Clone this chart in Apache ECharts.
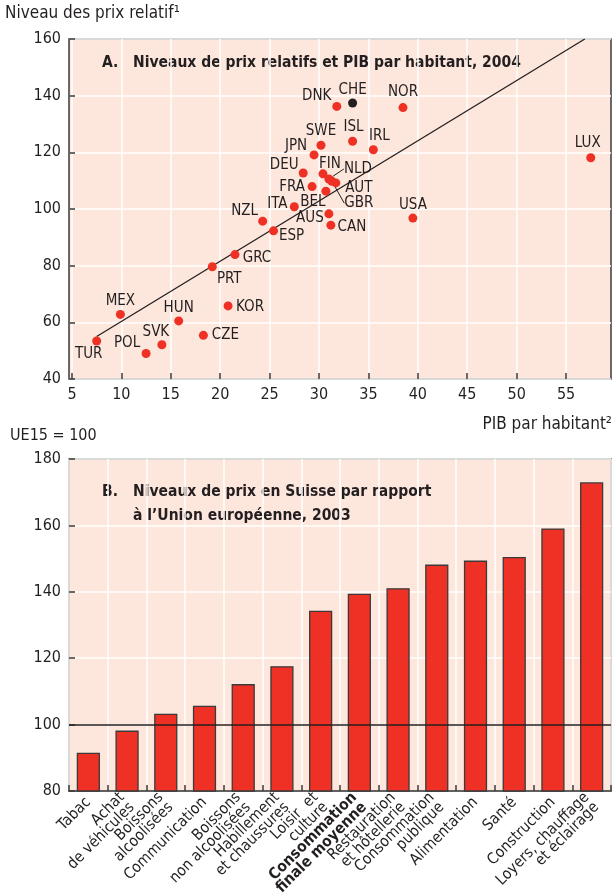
<!DOCTYPE html>
<html><head><meta charset="utf-8">
<script src="https://cdn.jsdelivr.net/npm/echarts@6/dist/echarts.min.js"></script>
<style>html,body{margin:0;padding:0;background:#fff}#c{width:614px;height:896px}</style>
</head><body><div id="c"></div>
<script>
const FONT = "'Liberation Sans Narrow','Arial Narrow','DejaVu Sans Condensed',sans-serif";

// ---- Panel A data ----
const countries     = ['TUR','MEX','POL','SVK','HUN','CZE','KOR','PRT','GRC','ESP','NZL','ITA','BEL','AUS','CAN','USA','FRA','DEU','FIN','NLD','GBR','AUT','JPN','SWE','ISL','IRL','DNK','CHE','NOR','LUX'];
const gdpPerCapita  = [7.5, 9.9, 12.5, 14.1, 15.8, 18.3, 20.8, 19.2, 21.5, 25.4, 24.3, 27.5, 30.7, 31.0, 31.2, 39.5, 29.3, 28.4, 30.4, 31.0, 31.3, 31.7, 29.5, 30.2, 33.4, 35.5, 31.8, 33.4, 38.5, 57.5];
const relPriceLevel = [53.4, 62.8, 49.0, 52.1, 60.5, 55.4, 65.8, 79.6, 83.9, 92.3, 95.7, 100.8, 106.3, 98.3, 94.3, 96.8, 107.9, 112.7, 112.4, 110.6, 109.8, 109.2, 119.1, 122.5, 123.9, 120.9, 136.2, 137.4, 135.8, 118.1];
const trendGdp   = [7.5, 56.9];
const trendPrice = [55.0, 160];
const xTicksA = [5, 10, 15, 20, 25, 30, 35, 40, 45, 50, 55];
const highlighted = 'CHE';

// ---- Panel B data ----
const categoriesB = ['Tabac','Achat\nde véhicules','Boissons\nalcoolisées','Communication','Boissons\nnon alcoolisées','Habillement\net chaussures','Loisir  et\nculture','Consommation\nfinale moyenne','Restauration\net hôtellerie','Consommation\npublique','Alimentation','Santé','Construction','Loyers, chauffage\net éclairage'];
const priceLevelsB = [91.5, 98.2, 103.3, 105.7, 112.2, 117.6, 134.3, 139.4, 141.1, 148.2, 149.4, 150.5, 159.1, 173.0];
const boldCategory = 'Consommation\nfinale moyenne';
const referenceLevel = 100;

// ---- label placement (style, not data) ----
const labelOffsets = {
  TUR:[-8,13], MEX:[0,-13], POL:[-19,-10], SVK:[-6,-13], HUN:[0,-13], CZE:[22,0], KOR:[22,1],
  PRT:[17,12], GRC:[22,3], ESP:[18,5], NZL:[-18,-10], ITA:[-17,-3], BEL:[-13,11], AUS:[-19,4],
  CAN:[21,2], USA:[0,-13], FRA:[-20,0], DEU:[-19,-8], FIN:[7,-10], NLD:[29,-10], GBR:[27,22],
  AUT:[23,5], JPN:[-18,-9], SWE:[0,-14], ISL:[1,-14], IRL:[6,-14], DNK:[-20,-10], CHE:[0,-13],
  NOR:[0,-15], LUX:[-3,-15]
};
const withLeader = ['NLD','GBR'];

const RED = '#ee3124', DARK = '#231f20', BG = '#fde6dc', FRAME = '#3a3a3a';

const chart = echarts.init(document.getElementById('c'), null, {renderer:'canvas'});

const scatterData = countries.map((c, i) => {
  const item = { name: c, value: [gdpPerCapita[i], relPriceLevel[i]] };
  if (c === highlighted) item.itemStyle = { color: DARK };
  if (withLeader.includes(c)) item.labelLine = { show: true, lineStyle: { color: DARK, width: 1 } };
  return item;
});

const gridBase = { show: true, backgroundColor: BG, borderColor: FRAME, borderWidth: 1.5, outerBoundsMode: 'none', containLabel: false };
const tickLabel = { color: DARK, fontSize: 16, fontFamily: FONT };
const TITLE_FONT = 'bold 15.5px ' + FONT;

chart.setOption({
  animation: false,
  backgroundColor: '#fff',
  grid: [
    Object.assign({ left: 69, right: 3, top: 39, height: 340 }, gridBase),
    Object.assign({ left: 69, right: 3, top: 459, height: 332 }, gridBase)
  ],
  xAxis: [
    { type: 'value', gridIndex: 0, min: 4.7, max: 59.55,
      axisLine: { show: false },
      axisTick: { show: true, inside: true, length: 6, lineStyle: { color: FRAME, width: 1.5 }, customValues: xTicksA },
      axisLabel: Object.assign({ margin: 8, customValues: xTicksA }, tickLabel),
      splitLine: { show: true, lineStyle: { color: '#fff', width: 1.5 } } },
    { type: 'category', gridIndex: 1, data: categoriesB,
      axisLine: { show: true, lineStyle: { color: FRAME, width: 1.5 } },
      axisTick: { show: true, inside: true, length: 6, alignWithLabel: false, lineStyle: { color: FRAME, width: 1.5 } },
      splitLine: { show: true, lineStyle: { color: '#fff', width: 1.5 } },
      axisLabel: { interval: 0, rotate: 45, margin: 9, color: DARK, fontSize: 15.5, lineHeight: 14, fontFamily: FONT,
        formatter: v => v === boldCategory ? v.split('\n').map(s => '{b|' + s + '}').join('\n') : v,
        rich: { b: { fontWeight: 'bold', fontSize: 15.5, lineHeight: 14, fontFamily: FONT, color: DARK } } } }
  ],
  yAxis: [
    { type: 'value', gridIndex: 0, min: 40, max: 160, interval: 20,
      axisLine: { show: false },
      axisTick: { show: true, inside: true, length: 6, lineStyle: { color: FRAME, width: 1.5 } },
      axisLabel: Object.assign({ margin: 8 }, tickLabel),
      splitLine: { show: true, lineStyle: { color: '#fff', width: 1.5 } } },
    { type: 'value', gridIndex: 1, min: 80, max: 180, interval: 20,
      axisLine: { show: false },
      axisTick: { show: true, inside: true, length: 6, lineStyle: { color: FRAME, width: 1.5 } },
      axisLabel: Object.assign({ margin: 8 }, tickLabel),
      splitLine: { show: true, lineStyle: { color: '#fff', width: 1.5 } } }
  ],
  series: [
    { type: 'line', xAxisIndex: 0, yAxisIndex: 0, z: 2, silent: true, symbol: 'none',
      data: trendGdp.map((x, i) => [x, trendPrice[i]]),
      lineStyle: { color: DARK, width: 1.3 } },
    { type: 'scatter', xAxisIndex: 0, yAxisIndex: 0, z: 3, symbolSize: 9,
      itemStyle: { color: RED, opacity: 1 },
      data: scatterData,
      label: { show: true, position: 'inside', formatter: '{b}', color: DARK, fontSize: 15, fontFamily: FONT },
      labelLayout: p => { const o = labelOffsets[countries[p.dataIndex]]; return { dx: o[0], dy: o[1] }; } },
    { type: 'line', xAxisIndex: 1, yAxisIndex: 1, z: 1, silent: true, data: [], symbol: 'none',
      markLine: { silent: true, symbol: 'none', label: { show: false },
        lineStyle: { color: DARK, width: 1.5, type: 'solid' },
        data: [{ yAxis: referenceLevel }] } },
    { type: 'bar', xAxisIndex: 1, yAxisIndex: 1, z: 3, barWidth: '60%',
      data: priceLevelsB,
      itemStyle: { color: RED, borderColor: FRAME, borderWidth: 1.3 } }
  ],
  graphic: [
    { type: 'text', left: 5, top: 5, style: { text: 'Niveau des prix relatif¹', fill: DARK, font: '17px ' + FONT } },
    { type: 'text', right: 2, top: 416, style: { text: 'PIB par habitant²', fill: DARK, font: '17px ' + FONT } },
    { type: 'text', left: 10, top: 428, style: { text: 'UE15 = 100', fill: DARK, font: '16px ' + FONT } },
    { type: 'text', left: 102, top: 55, style: { text: 'A.', fill: DARK, font: TITLE_FONT } },
    { type: 'text', left: 133, top: 55, style: { text: 'Niveaux de prix relatifs et PIB par habitant, 2004', fill: DARK, font: TITLE_FONT } },
    { type: 'text', left: 102, top: 484, style: { text: 'B.', fill: DARK, font: TITLE_FONT } },
    { type: 'text', left: 133, top: 484, style: { text: 'Niveaux de prix en Suisse par rapport', fill: DARK, font: TITLE_FONT } },
    { type: 'text', left: 133, top: 508, style: { text: 'à l’Union européenne, 2003', fill: DARK, font: TITLE_FONT } }
  ]
});
</script></body></html>
